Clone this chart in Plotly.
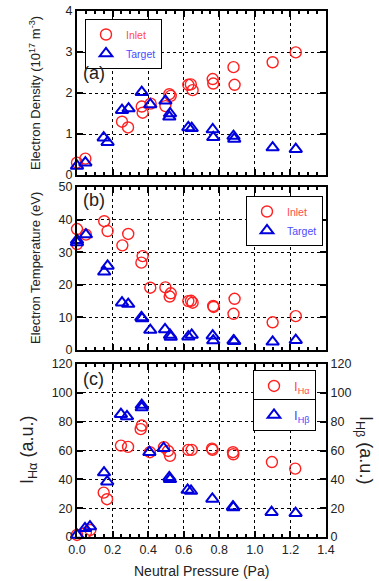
import plotly.graph_objects as go

# ---------------- data ----------------
# (a) Electron density (1e17 m^-3)
ne_inlet_x = [0.0, 0.047, 0.253, 0.287, 0.364, 0.369, 0.414, 0.497, 0.519, 0.527, 0.626, 0.64, 0.65, 0.763, 0.766, 0.88, 0.886, 1.10, 1.23]
ne_inlet_y = [0.30, 0.40, 1.30, 1.16, 1.67, 1.52, 1.74, 1.68, 1.97, 1.93, 2.20, 2.21, 2.07, 2.34, 2.23, 2.63, 2.20, 2.75, 2.99]
ne_target_x = [0.0, 0.047, 0.15, 0.172, 0.253, 0.29, 0.364, 0.412, 0.497, 0.523, 0.519, 0.626, 0.645, 0.763, 0.766, 0.88, 0.884, 1.10, 1.23]
ne_target_y = [0.22, 0.30, 0.91, 0.80, 1.58, 1.62, 2.02, 1.72, 1.81, 1.50, 1.42, 1.16, 1.14, 1.11, 0.92, 0.95, 0.88, 0.67, 0.63]

# (b) Electron temperature (eV)
te_inlet_x = [0.0, 0.0, 0.05, 0.153, 0.172, 0.255, 0.288, 0.369, 0.362, 0.412, 0.497, 0.527, 0.521, 0.626, 0.641, 0.65, 0.766, 0.768, 0.886, 0.88, 1.10, 1.23]
te_inlet_y = [37.1, 32.5, 35.4, 39.5, 36.5, 32.1, 35.6, 28.8, 26.8, 19.1, 19.2, 17.4, 16.4, 15.0, 15.1, 14.5, 13.5, 13.2, 15.7, 11.1, 8.5, 10.4]
te_target_x = [0.0, 0.0, 0.05, 0.153, 0.172, 0.253, 0.288, 0.362, 0.366, 0.412, 0.495, 0.523, 0.527, 0.626, 0.645, 0.763, 0.766, 0.88, 0.884, 1.10, 1.23]
te_target_y = [33.7, 33.0, 35.4, 24.0, 25.8, 14.5, 14.1, 10.0, 9.7, 6.1, 6.3, 4.6, 4.0, 4.1, 4.6, 4.4, 2.9, 2.9, 2.7, 2.5, 3.0]

# (c) Line intensities (a.u.)
ha_x = [0.0, 0.05, 0.075, 0.15, 0.169, 0.247, 0.287, 0.364, 0.358, 0.41, 0.489, 0.512, 0.523, 0.626, 0.645, 0.759, 0.762, 0.877, 0.879, 1.096, 1.227]
ha_y = [1.4, 3.0, 4.9, 30.8, 26.2, 63.4, 62.5, 77.3, 74.8, 58.8, 62.3, 59.7, 56.3, 60.4, 60.4, 61.3, 60.5, 58.8, 57.4, 52.0, 47.4]
hb_x = [0.0, 0.045, 0.073, 0.152, 0.17, 0.247, 0.281, 0.364, 0.364, 0.407, 0.487, 0.519, 0.523, 0.622, 0.641, 0.761, 0.877, 0.879, 1.094, 1.229]
hb_y = [1.4, 6.0, 7.2, 44.7, 38.4, 85.2, 83.6, 91.5, 89.8, 58.8, 61.6, 41.4, 40.0, 32.6, 31.9, 26.4, 21.0, 20.5, 17.2, 16.5]

x_ticks = [0.0, 0.2, 0.4, 0.6, 0.8, 1.0, 1.2, 1.4]

RED = "#ff2020"
BLUE = "#0000dd"
RED_TXT = "#ff4a4a"
BLUE_TXT = "#4a4aff"
FONT = "Liberation Sans, Arial, sans-serif"

fig = go.Figure()

def circ(x, y, name, xa, ya, legend):
    return go.Scatter(x=x, y=y, mode="markers", name=name, xaxis=xa, yaxis=ya,
                      legend=legend, cliponaxis=False,
                      marker=dict(symbol="circle-open", size=11, color=RED, line=dict(width=1.4, color=RED)))

def tri(x, y, name, xa, ya, legend):
    return go.Scatter(x=x, y=y, mode="markers", name=name, xaxis=xa, yaxis=ya,
                      legend=legend, cliponaxis=False,
                      marker=dict(symbol="triangle-up-open", size=11, color=BLUE, line=dict(width=2, color=BLUE)))

red_inlet = f'<span style="color:{RED_TXT}">Inlet</span>'
blue_target = f'<span style="color:{BLUE_TXT}">Target</span>'

fig.add_trace(circ(ne_inlet_x, ne_inlet_y, red_inlet, "x", "y", "legend"))
fig.add_trace(tri(ne_target_x, ne_target_y, blue_target, "x", "y", "legend"))
fig.add_trace(circ(te_inlet_x, te_inlet_y, red_inlet, "x2", "y2", "legend2"))
fig.add_trace(tri(te_target_x, te_target_y, blue_target, "x2", "y2", "legend2"))
fig.add_trace(circ(ha_x, ha_y, f'<span style="color:{RED_TXT}">I<sub>Hα</sub></span>', "x3", "y3", "legend3"))
fig.add_trace(tri(hb_x, hb_y, f'<span style="color:{BLUE_TXT}">I<sub>Hβ</sub></span>', "x3", "y4", "legend4"))

# Layout geometry (pixels -> paper)
W, H = 379, 581
L, R, T, B = 77, 53, 11, 44
PW, PH = W - L - R, H - T - B

def py(p):
    return (H - B - p) / PH

def px(p):
    return (p - L) / PW

tickfont = dict(family=FONT, size=12.5, color="#222")
common_x = dict(range=[0, 1.4], tickvals=x_ticks, ticks="inside", ticklen=6, tickwidth=2,
                showline=True, linewidth=2, linecolor="black", mirror="ticks",
                showgrid=True, gridcolor="black", griddash="dot", gridwidth=1, zeroline=False,
                minor=dict(dtick=0.05, ticks="inside", ticklen=3, tickwidth=1.5, tickcolor="black", showgrid=False),
                tickcolor="black", tickfont=tickfont, tickformat=".1f", automargin=False)
common_y = dict(ticks="inside", ticklen=6, tickwidth=2, tickcolor="black",
                showline=True, linewidth=2, linecolor="black", mirror="ticks",
                showgrid=True, gridcolor="black", griddash="dot", gridwidth=1, zeroline=False,
                tickfont=tickfont, automargin=False)

leg_common = dict(xanchor="left", yanchor="top", bordercolor="black", borderwidth=1,
                  bgcolor="white", itemwidth=30)

fig.update_layout(
    width=W, height=H, margin=dict(l=L, r=R, t=T, b=B, autoexpand=False),
    paper_bgcolor="white", plot_bgcolor="white",
    font=dict(family=FONT, size=13, color="#222"),
    xaxis=dict(common_x, domain=[0, 1], anchor="y", showticklabels=False),
    xaxis2=dict(common_x, domain=[0, 1], anchor="y2", matches="x", showticklabels=False),
    xaxis3=dict(common_x, domain=[0, 1], anchor="y3", matches="x", showticklabels=True),
    yaxis=dict(common_y, domain=[py(175), py(11)], range=[0, 4], dtick=1, anchor="x"),
    yaxis2=dict(common_y, domain=[py(350), py(187)], range=[0, 50], dtick=10, anchor="x2"),
    yaxis3=dict(common_y, domain=[0, py(364)], range=[0, 120], dtick=20, anchor="x3"),
    yaxis4=dict(common_y, domain=[0, py(364)], range=[0, 120], dtick=20, anchor="x3",
                overlaying="y3", side="right", showgrid=False, mirror=False),
    legend=dict(leg_common, x=px(85), y=py(19), font=dict(family=FONT, size=10.5)),
    legend2=dict(leg_common, x=px(246), y=py(196), font=dict(family=FONT, size=10.5)),
    legend3=dict(leg_common, x=px(253), y=py(370), font=dict(family=FONT, size=13)),
    legend4=dict(leg_common, x=px(253), y=py(399), font=dict(family=FONT, size=13)),
    showlegend=True,
)

# axis titles and panel labels
ann = [
    dict(text="Electron Density (10<sup>17</sup> m<sup>-3</sup>)", x=px(35), y=py(93), textangle=-90,
         font=dict(size=13)),
    dict(text="Electron Temperature (eV)", x=px(35), y=py(268), textangle=-90, font=dict(size=13)),
    dict(text="I<sub>Hα</sub> (a.u.)", x=px(28), y=py(450), textangle=-90, font=dict(size=18)),
    dict(text="I<sub>Hβ</sub> (a.u.)", x=px(365), y=py(450), textangle=90, font=dict(size=18)),
    dict(text="Neutral Pressure (Pa)", x=px(201), y=py(571), font=dict(size=14)),
    dict(text="(a)", x=px(81), y=py(73), xanchor="left", font=dict(size=18)),
    dict(text="(b)", x=px(81), y=py(200), xanchor="left", font=dict(size=18)),
    dict(text="(c)", x=px(81), y=py(379), xanchor="left", font=dict(size=18)),
]
for a in ann:
    a.setdefault("xanchor", "center")
    a.update(xref="paper", yref="paper", yanchor="middle", showarrow=False)
    a["font"] = dict(family=FONT, color="#222", **a["font"])
fig.update_layout(annotations=ann)

fig.write_html("out.html", config={"displayModeBar": False},
               post_script="document.body.style.margin='0';document.body.style.overflow='hidden';")
